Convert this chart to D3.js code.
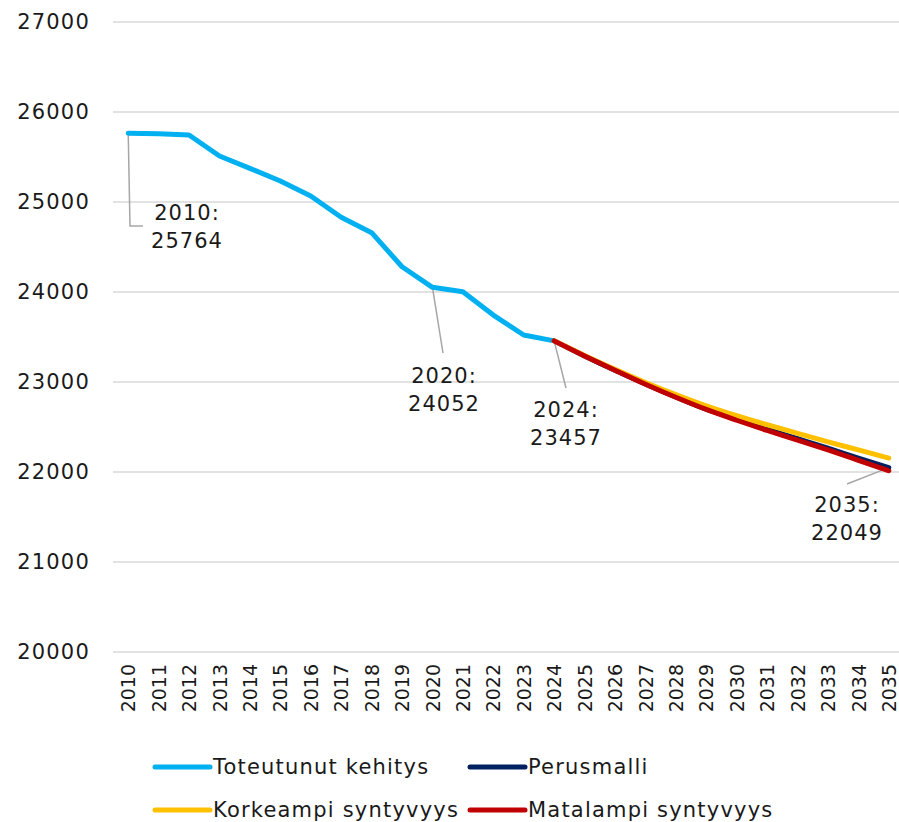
<!DOCTYPE html>
<html>
<head>
<meta charset="utf-8">
<script src="https://cdn.jsdelivr.net/npm/d3@7"></script>
<style>
  body { margin: 0; background: #fff; }
  text { font-family: "DejaVu Sans", sans-serif; fill: #1a1a1a; }
</style>
</head>
<body>
<div id="chart"></div>
<script>
// years on the x axis
var years = d3.range(2010, 2036).map(String);
var yTicks = [20000, 21000, 22000, 23000, 24000, 25000, 26000, 27000];

// observed values 2010-2024
var actualYears = years.slice(0, 15);
var actual = [25764, 25758, 25745, 25511, 25374, 25233, 25067, 24830, 24659, 24281, 24052, 24003, 23744, 23522, 23457];

// projections 2024-2035
var projYears = years.slice(14);
var perus = [23457, 23290, 23130, 22978, 22833, 22697, 22585, 22475, 22370, 22265, 22155, 22049];
var korkea = [23457, 23295, 23140, 22995, 22860, 22735, 22625, 22525, 22430, 22335, 22245, 22155];
var matala = [23457, 23290, 23130, 22975, 22830, 22695, 22575, 22462, 22355, 22245, 22130, 22014];

var seriesNames = ["Toteutunut kehitys", "Perusmalli", "Korkeampi syntyvyys", "Matalampi syntyvyys"];
var colors = ["#00b0f0", "#002060", "#ffc000", "#c00000"];

// annotated points
var notes = [
  { year: "2010", value: 25764 },
  { year: "2020", value: 24052 },
  { year: "2024", value: 23457 },
  { year: "2035", value: 22049 }
];

var width = 899, height = 822;

var svg = d3.select("#chart")
  .append("svg")
  .attr("width", width)
  .attr("height", height);

var xScale = d3.scalePoint().domain(years).range([113, 904]).padding(0.5);
var yScale = d3.scaleLinear().domain([20000, 27000]).range([652, 22]);

// gridlines
svg.append("g")
  .selectAll("line")
  .data(yTicks)
  .enter()
  .append("line")
  .attr("x1", 113)
  .attr("x2", 906)
  .attr("y1", function(d) { return yScale(d); })
  .attr("y2", function(d) { return yScale(d); })
  .attr("stroke", "#d9d9d9")
  .attr("stroke-width", 1.5);

// y axis
var yAxis = d3.axisLeft(yScale).tickValues(yTicks).tickFormat(d3.format("d")).tickSize(0).tickPadding(0);
var yG = svg.append("g")
  .attr("transform", "translate(90,0)")
  .call(yAxis);
yG.select(".domain").remove();
yG.selectAll("text")
  .style("font-size", "21px")
  .style("letter-spacing", "1.2px")
  .attr("fill", "#1a1a1a");

// x axis, rotated labels
var xAxis = d3.axisBottom(xScale).tickSize(0).tickPadding(0);
var xG = svg.append("g")
  .attr("transform", "translate(0,652)")
  .call(xAxis);
xG.select(".domain").remove();
xG.selectAll("text")
  .style("font-size", "19px")
  .attr("fill", "#1a1a1a")
  .attr("text-anchor", "end")
  .attr("dy", "0.35em")
  .attr("transform", "translate(0,12) rotate(-90)")
  .attr("y", 0)
  .attr("x", 0);

var straight = d3.line()
  .x(function(d) { return xScale(d[0]); })
  .y(function(d) { return yScale(d[1]); });
var smooth = d3.line()
  .x(function(d) { return xScale(d[0]); })
  .y(function(d) { return yScale(d[1]); })
  .curve(d3.curveMonotoneX);

var lineData = [
  d3.zip(actualYears, actual),
  d3.zip(projYears, perus),
  d3.zip(projYears, korkea),
  d3.zip(projYears, matala)
];

// leader lines for labels
var leaders = [
  [[xScale("2010"), yScale(25764)], [130, 226], [143, 226]],
  [[xScale("2020"), yScale(24052)], [443, 353]],
  [[xScale("2024"), yScale(23457)], [566, 388]],
  [[xScale("2035"), yScale(22049)], [847, 484]]
];
svg.append("g")
  .selectAll("path")
  .data(leaders)
  .enter()
  .append("path")
  .attr("d", d3.line())
  .attr("fill", "none")
  .attr("stroke", "#a6a6a6")
  .attr("stroke-width", 1.5);

svg.append("g")
  .selectAll("path")
  .data(lineData)
  .enter()
  .append("path")
  .attr("d", function(d, i) { return i === 0 ? straight(d) : smooth(d); })
  .attr("fill", "none")
  .attr("stroke", function(d, i) { return colors[i]; })
  .attr("stroke-width", 5)
  .attr("stroke-linecap", "round")
  .attr("stroke-linejoin", "round");

// data labels
var labelPos = [[187, 220], [444, 383], [566, 417], [847, 512]];
var labels = svg.append("g")
  .selectAll("text")
  .data(notes)
  .enter()
  .append("text")
  .attr("text-anchor", "middle")
  .style("font-size", "21px")
  .style("letter-spacing", "1px")
  .attr("x", function(d, i) { return labelPos[i][0]; })
  .attr("y", function(d, i) { return labelPos[i][1]; });
labels.append("tspan")
  .text(function(d) { return d.year + ":"; });
labels.append("tspan")
  .attr("x", function(d, i) { return labelPos[i][0]; })
  .attr("dy", 28)
  .text(function(d) { return d.value; });

// legend
var legendPos = [[155, 767], [470, 767], [155, 810], [470, 810]];
var legend = svg.append("g")
  .selectAll("g")
  .data(seriesNames)
  .enter()
  .append("g")
  .attr("transform", function(d, i) {
    return "translate(" + legendPos[i][0] + "," + legendPos[i][1] + ")";
  });
legend.append("line")
  .attr("x1", 0)
  .attr("x2", 55)
  .attr("stroke", function(d, i) { return colors[i]; })
  .attr("stroke-width", 5)
  .attr("stroke-linecap", "round");
legend.append("text")
  .attr("x", 58)
  .attr("dy", "0.35em")
  .style("font-size", "21px")
  .style("letter-spacing", "1.2px")
  .text(function(d) { return d; });
</script>
</body>
</html>
